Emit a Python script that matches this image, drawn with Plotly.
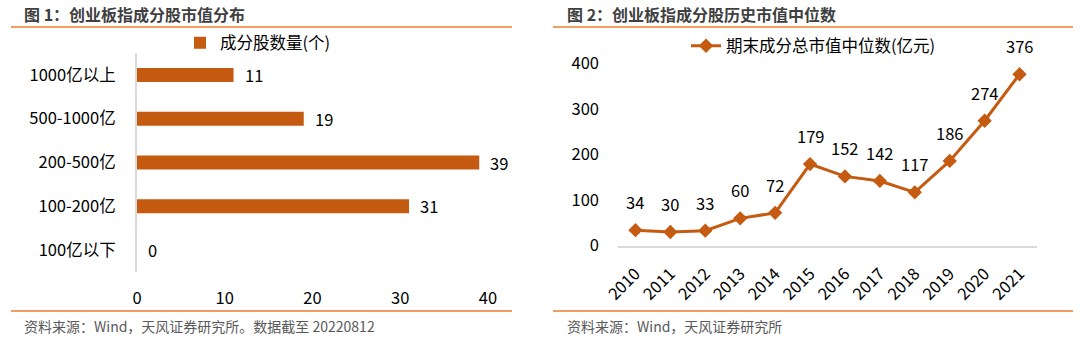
import plotly.graph_objects as go

# ---- data ----
left_categories = ["1000亿以上", "500-1000亿", "200-500亿", "100-200亿", "100亿以下"]
left_values = [11, 19, 39, 31, 0]
left_series_name = "成分股数量(个)"

years = ["2010", "2011", "2012", "2013", "2014", "2015", "2016", "2017", "2018", "2019", "2020", "2021"]
median_values = [34, 30, 33, 60, 72, 179, 152, 142, 117, 186, 274, 376]
right_series_name = "期末成分总市值中位数(亿元)"

title_left = "图 1：创业板指成分股市值分布"
title_right = "图 2：创业板指成分股历史市值中位数"
source_left = "资料来源：Wind，天风证券研究所。数据截至 20220812"
source_right = "资料来源：Wind，天风证券研究所"

W, H = 1080, 341
FONT = "Noto Sans CJK SC, Noto Sans, sans-serif"
BAR_COLOR = "#C55A11"
SEP_COLOR = "#ED7D31"
TXT = "#000000"
FS = 16.5

def px_x(p):
    return p / W

def px_y(p):
    return 1 - p / H

year_nums = [int(y) for y in years]

fig = go.Figure()

fig.add_trace(go.Bar(
    y=left_categories, x=left_values, orientation="h",
    marker=dict(color=BAR_COLOR, line=dict(width=0)),
    width=0.32, name=left_series_name, xaxis="x", yaxis="y",
    legend="legend", showlegend=True,
))

fig.add_trace(go.Scatter(
    x=year_nums, y=median_values, mode="lines+markers",
    line=dict(color=BAR_COLOR, width=3),
    marker=dict(symbol="diamond", size=11, color=BAR_COLOR),
    name=right_series_name, xaxis="x2", yaxis="y2",
    legend="legend2", showlegend=True, cliponaxis=False,
))

annotations = []
for c, v in zip(left_categories, left_values):
    annotations.append(dict(
        x=v, y=c, xref="x", yref="y", text=str(v), showarrow=False,
        xanchor="left", yanchor="middle", xshift=9,
        font=dict(family=FONT, size=FS, color=TXT),
    ))
for yr, v in zip(year_nums, median_values):
    annotations.append(dict(
        x=yr, y=v, xref="x2", yref="y2", text=str(v), showarrow=False,
        xanchor="center", yanchor="middle", yshift=28,
        font=dict(family=FONT, size=FS, color=TXT),
    ))

# titles and sources
annotations += [
    dict(x=px_x(22), y=px_y(14), xref="paper", yref="paper", text="<b>" + title_left + "</b>",
         showarrow=False, xanchor="left", yanchor="middle",
         font=dict(family=FONT, size=16, color="#404040")),
    dict(x=px_x(565), y=px_y(14), xref="paper", yref="paper", text="<b>" + title_right + "</b>",
         showarrow=False, xanchor="left", yanchor="middle",
         font=dict(family=FONT, size=16, color="#404040")),
    dict(x=px_x(22), y=px_y(326), xref="paper", yref="paper", text=source_left,
         showarrow=False, xanchor="left", yanchor="middle",
         font=dict(family=FONT, size=14, color="#595959")),
    dict(x=px_x(565), y=px_y(326), xref="paper", yref="paper", text=source_right,
         showarrow=False, xanchor="left", yanchor="middle",
         font=dict(family=FONT, size=14, color="#595959")),
]

shapes = []
for (x0, x1) in [(11, 512), (553, 1073)]:
    for yy in (27, 311):
        shapes.append(dict(type="line", xref="paper", yref="paper",
                           x0=px_x(x0), x1=px_x(x1), y0=px_y(yy), y1=px_y(yy),
                           line=dict(color=SEP_COLOR, width=1.5)))

tickfont = dict(family=FONT, size=FS, color=TXT)

fig.update_layout(
    template="none",
    width=W, height=H,
    margin=dict(l=0, r=0, t=0, b=0, pad=0, autoexpand=False),
    paper_bgcolor="white", plot_bgcolor="white",
    font=dict(family=FONT, size=FS, color=TXT),
    showlegend=True,
    xaxis=dict(domain=[px_x(137), px_x(488 + 8.775 * 2)], range=[0, 42],
               tickvals=[0, 10, 20, 30, 40], showgrid=False, zeroline=False,
               showline=False, ticks="", tickfont=tickfont, ticklabelstandoff=14,
               anchor="y", automargin=False),
    yaxis=dict(domain=[px_y(272), px_y(53)], autorange="reversed",
               categoryorder="array", categoryarray=left_categories, type="category",
               showgrid=False, zeroline=False, showline=True, linecolor="#D9D9D9",
               linewidth=2, ticks="", tickfont=tickfont, ticklabelstandoff=16,
               anchor="x", automargin=False),
    xaxis2=dict(domain=[px_x(618), px_x(1037)], range=[2009.5, 2021.5],
                tickvals=year_nums, ticktext=years,
                showgrid=False, zeroline=False, showline=True, linecolor="#D9D9D9",
                linewidth=2, ticks="", tickangle=-45, tickfont=tickfont, ticklabelstandoff=10,
                anchor="y2", automargin=False),
    yaxis2=dict(domain=[px_y(245.7), px_y(63.3)], range=[0, 400],
                tickvals=[0, 100, 200, 300, 400], showgrid=False, zeroline=False,
                showline=False, ticks="", tickfont=tickfont, ticklabelstandoff=18,
                anchor="x2", automargin=False),
    legend=dict(x=px_x(180), y=px_y(43), xanchor="left", yanchor="middle",
                bgcolor="rgba(0,0,0,0)", borderwidth=0,
                font=dict(family=FONT, size=FS, color=TXT)),
    legend2=dict(x=px_x(686), y=px_y(46), xanchor="left", yanchor="middle",
                 bgcolor="rgba(0,0,0,0)", borderwidth=0,
                 font=dict(family=FONT, size=FS, color=TXT)),
    annotations=annotations,
    shapes=shapes,
)

fig.write_html("out.html")
